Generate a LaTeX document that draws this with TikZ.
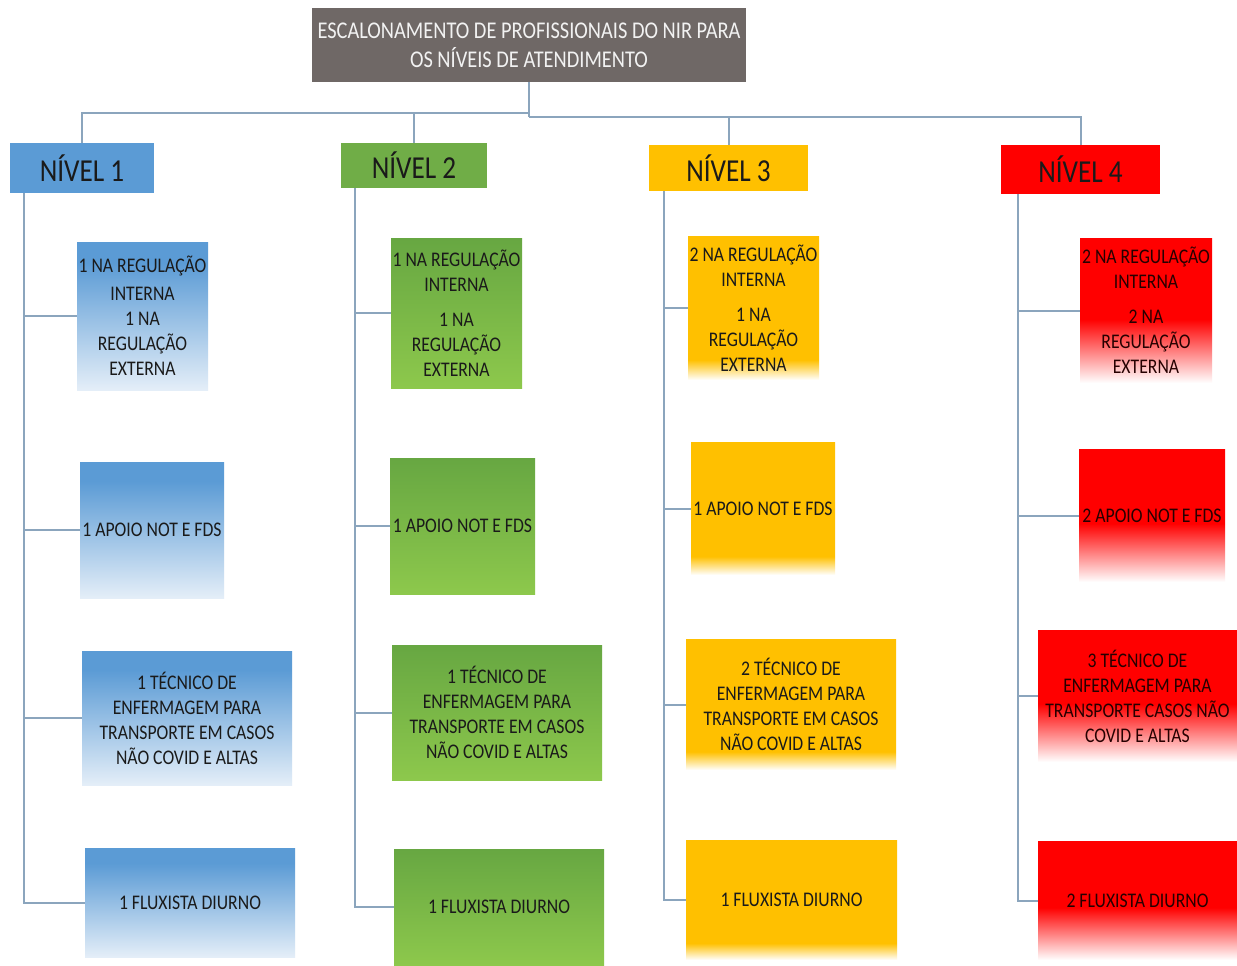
\documentclass[tikz,border=0pt]{standalone}
\usepackage{fontspec}
\setmainfont{Carlito}[FakeStretch=0.85]
\usetikzlibrary{calc}
\definecolor{titlegray}{HTML}{6F6866}
\definecolor{titletext}{HTML}{F2F2F2}
\definecolor{conncol}{HTML}{8BA5BD}
\definecolor{nblue}{HTML}{5B9BD5}
\definecolor{lblue}{HTML}{E4EEF8}
\definecolor{ngreen}{HTML}{70AD47}
\definecolor{dgreen}{HTML}{67A742}
\definecolor{lgreen}{HTML}{8DC84C}
\definecolor{nyellow}{HTML}{FFC000}
\definecolor{nred}{HTML}{FF0000}
\definecolor{txt}{HTML}{1A1A1A}
\pgfdeclareverticalshading{bluefade}{100bp}{color(0bp)=(lblue); color(25bp)=(lblue); color(68bp)=(nblue); color(100bp)=(nblue)}
\pgfdeclareverticalshading{greenfade}{100bp}{color(0bp)=(lgreen); color(25bp)=(lgreen); color(75bp)=(dgreen); color(100bp)=(dgreen)}
\pgfdeclareverticalshading{yellowfade}{100bp}{color(0bp)=(white); color(25bp)=(white); color(32bp)=(nyellow); color(100bp)=(nyellow)}
\pgfdeclareverticalshading{redfade}{100bp}{color(0bp)=(white); color(25bp)=(white); color(47bp)=(nred); color(100bp)=(nred)}
\tikzset{
  conn/.style={draw=conncol, line width=1pt},
  titlebox/.style={fill=titlegray, text=titletext, align=center, inner sep=0pt,
    font=\fontsize{12}{14.5}\selectfont},
  levelbox/.style={inner sep=0pt, text=txt, font=\fontsize{16}{18}\selectfont},
  childbox/.style={inner sep=0pt, text=txt, align=center,
    font=\fontsize{10.4}{12.5}\selectfont},
  bluebox/.style={childbox, shade, shading=bluefade},
  greenbox/.style={childbox, shade, shading=greenfade},
  yellowbox/.style={childbox, shade, shading=yellowfade},
  redbox/.style={childbox, shade, shading=redfade, text=black!85!red},
}
\begin{document}
\begin{tikzpicture}[x=0.5pt,y=-0.5pt]
\useasboundingbox[fill=white] (0,0) rectangle (1237,965);

% title
\node[titlebox, minimum width=217pt, minimum height=37pt] (T) at (529,45)
  {ESCALONAMENTO DE PROFISSIONAIS DO NIR PARA\\OS NÍVEIS DE ATENDIMENTO};

% level boxes
\node[levelbox, fill=nblue, minimum width=72pt, minimum height=25pt] (N1) at (82,168) {NÍVEL 1};
\node[levelbox, fill=ngreen, minimum width=73pt, minimum height=22.5pt] (N2) at (414,165.5) {NÍVEL 2};
\node[levelbox, fill=nyellow, minimum width=79.5pt, minimum height=23pt] (N3) at (728.5,168) {NÍVEL 3};
\node[levelbox, fill=nred, minimum width=79.5pt, minimum height=24.5pt] (N4) at (1080.5,169.5) {NÍVEL 4};

% column 1
\node[bluebox, minimum width=65.5pt, minimum height=74pt] (a1) at (142.5,316)
  {1 NA REGULAÇÃO\\[1.5pt]INTERNA\\1 NA\\REGULAÇÃO\\EXTERNA};
\node[bluebox, minimum width=72pt, minimum height=68pt] (a2) at (152,530) {1 APOIO NOT E FDS};
\node[bluebox, minimum width=105pt, minimum height=67pt] (a3) at (187,718)
  {1 TÉCNICO DE\\ENFERMAGEM PARA\\TRANSPORTE EM CASOS\\NÃO COVID E ALTAS};
\node[bluebox, minimum width=105pt, minimum height=54.5pt] (a4) at (190,902.5) {1 FLUXISTA DIURNO};

% column 2
\node[greenbox, minimum width=65.5pt, minimum height=75pt] (b1) at (456.5,313)
  {1 NA REGULAÇÃO\\INTERNA\\[5pt]1 NA\\REGULAÇÃO\\EXTERNA};
\node[greenbox, minimum width=72.5pt, minimum height=68pt] (b2) at (462.5,526) {1 APOIO NOT E FDS};
\node[greenbox, minimum width=105pt, minimum height=67.5pt] (b3) at (497,712.5)
  {1 TÉCNICO DE\\ENFERMAGEM PARA\\TRANSPORTE EM CASOS\\NÃO COVID E ALTAS};
\node[greenbox, minimum width=105pt, minimum height=58pt] (b4) at (499,907) {1 FLUXISTA DIURNO};

% column 3
\node[yellowbox, minimum width=65.5pt, minimum height=72pt] (c1) at (753.5,308)
  {2 NA REGULAÇÃO\\INTERNA\\[5pt]1 NA\\REGULAÇÃO\\EXTERNA};
\node[yellowbox, minimum width=72pt, minimum height=66.5pt] (c2) at (763,508.5) {1 APOIO NOT E FDS};
\node[yellowbox, minimum width=105pt, minimum height=65.5pt] (c3) at (791,704.5)
  {2 TÉCNICO DE\\ENFERMAGEM PARA\\TRANSPORTE EM CASOS\\NÃO COVID E ALTAS};
\node[yellowbox, minimum width=105.5pt, minimum height=60pt] (c4) at (791.5,900) {1 FLUXISTA DIURNO};

% column 4
\node[redbox, minimum width=66pt, minimum height=72.5pt] (d1) at (1146,310.5)
  {2 NA REGULAÇÃO\\INTERNA\\[5pt]2 NA\\REGULAÇÃO\\EXTERNA};
\node[redbox, minimum width=73pt, minimum height=66.5pt] (d2) at (1152,515.5) {2 APOIO NOT E FDS};
\node[redbox, minimum width=99.5pt, minimum height=66pt] (d3) at (1137.5,696)
  {3 TÉCNICO DE\\ENFERMAGEM PARA\\TRANSPORTE CASOS NÃO\\COVID E ALTAS};
\node[redbox, minimum width=99.5pt, minimum height=59.5pt] (d4) at (1137.5,900.5) {2 FLUXISTA DIURNO};

% top tree
\coordinate (jl) at (529,113);
\coordinate (jr) at (529,117);
\draw[conn] (T.south) -- (jr);
\draw[conn] (jl) -| (N1.north);
\draw[conn] (jl -| N2.north) -- (N2.north);
\draw[conn] (jr) -| (N4.north);
\draw[conn] (jr -| N3.north) -- (N3.north);

% spines
\coordinate (s1) at (24,0);
\coordinate (s2) at (355,0);
\coordinate (s3) at (664,0);
\coordinate (s4) at (1018,0);
\draw[conn] (N1.south -| s1) |- (a4.west);
\draw[conn] (a1.west -| s1) -- (a1.west);
\draw[conn] (a2.west -| s1) -- (a2.west);
\draw[conn] (a3.west -| s1) -- (a3.west);
\draw[conn] (N2.south -| s2) |- (b4.west);
\draw[conn] (b1.west -| s2) -- (b1.west);
\draw[conn] (b2.west -| s2) -- (b2.west);
\draw[conn] (b3.west -| s2) -- (b3.west);
\draw[conn] (N3.south -| s3) |- (c4.west);
\draw[conn] (c1.west -| s3) -- (c1.west);
\draw[conn] (c2.west -| s3) -- (c2.west);
\draw[conn] (c3.west -| s3) -- (c3.west);
\draw[conn] (N4.south -| s4) |- (d4.west);
\draw[conn] (d1.west -| s4) -- (d1.west);
\draw[conn] (d2.west -| s4) -- (d2.west);
\draw[conn] (d3.west -| s4) -- (d3.west);
\end{tikzpicture}
\end{document}
